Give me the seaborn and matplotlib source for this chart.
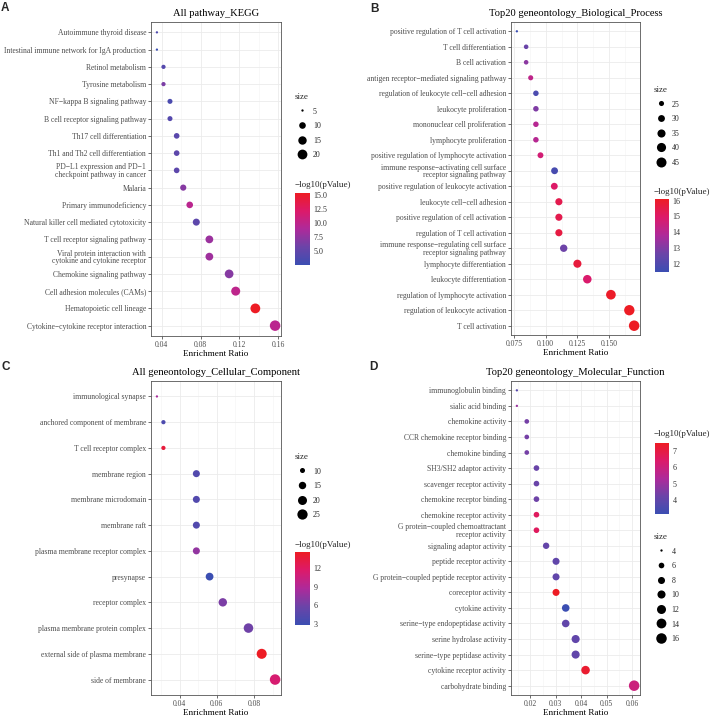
import numpy as np
import pandas as pd
import matplotlib
matplotlib.use("Agg")
import matplotlib.pyplot as plt
import seaborn as sns
from matplotlib.colors import LinearSegmentedColormap, Normalize
from matplotlib.cm import ScalarMappable
from matplotlib.lines import Line2D
from matplotlib.ticker import FixedLocator, AutoMinorLocator, FixedFormatter

sns.set_theme(style="white")
plt.rcParams['font.family'] = ['Liberation Serif', 'DejaVu Serif']

# ---------------- data ----------------
kegg_terms = [
    "Autoimmune thyroid disease",
    "Intestinal immune network for IgA production",
    "Retinol metabolism",
    "Tyrosine metabolism",
    "NF\u2212kappa B signaling pathway",
    "B cell receptor signaling pathway",
    "Th17 cell differentiation",
    "Th1 and Th2 cell differentiation",
    "PD\u2212L1 expression and PD\u22121\ncheckpoint pathway in cancer",
    "Malaria",
    "Primary immunodeficiency",
    "Natural killer cell mediated cytotoxicity",
    "T cell receptor signaling pathway",
    "Viral protein interaction with\ncytokine and cytokine receptor",
    "Chemokine signaling pathway",
    "Cell adhesion molecules (CAMs)",
    "Hematopoietic cell lineage",
    "Cytokine\u2212cytokine receptor interaction",
]
kegg_ratio = [0.0349, 0.0349, 0.0417, 0.0417, 0.0484, 0.0484, 0.0553, 0.0553, 0.0553,
              0.0621, 0.0688, 0.0756, 0.0891, 0.0891, 0.1095, 0.1163, 0.1366, 0.1570]
kegg_count = [5, 5, 6, 6, 7, 7, 8, 8, 8, 9, 10, 11, 13, 13, 16, 17, 20, 23]
kegg_logp = [3.8, 2.5, 4.3, 6.5, 3.6, 4.3, 4.6, 4.8, 4.8, 7.0, 9.8, 4.8, 8.0, 8.2, 7.0, 10.0, 15.4, 9.8]
kegg_xticks = [0.04, 0.08, 0.12, 0.16]
kegg_xticklabels = ["0.04", "0.08", "0.12", "0.16"]
kegg_size_breaks = [5, 10, 15, 20]
kegg_cbar_ticks = [5.0, 7.5, 10.0, 12.5, 15.0]
kegg_cbar_labels = ["5.0", "7.5", "10.0", "12.5", "15.0"]

bp_terms = [
    "positive regulation of T cell activation",
    "T cell differentiation",
    "B cell activation",
    "antigen receptor\u2212mediated signaling pathway",
    "regulation of leukocyte cell\u2212cell adhesion",
    "leukocyte proliferation",
    "mononuclear cell proliferation",
    "lymphocyte proliferation",
    "positive regulation of lymphocyte activation",
    "immune response\u2212activating cell surface\nreceptor signaling pathway",
    "positive regulation of leukocyte activation",
    "leukocyte cell\u2212cell adhesion",
    "positive regulation of cell activation",
    "regulation of T cell activation",
    "immune response\u2212regulating cell surface\nreceptor signaling pathway",
    "lymphocyte differentiation",
    "leukocyte differentiation",
    "regulation of lymphocyte activation",
    "regulation of leukocyte activation",
    "T cell activation",
]
bp_ratio = [0.0773, 0.0846, 0.0846, 0.0882, 0.0923, 0.0923, 0.0923, 0.0923, 0.0959, 0.1070,
            0.1068, 0.1104, 0.1104, 0.1104, 0.1142, 0.1250, 0.1328, 0.1514, 0.1659, 0.1697]
bp_count = [22, 24, 24, 25, 26, 26, 26, 26, 27, 30, 30, 31, 31, 31, 32, 35, 37, 43, 47, 48]
bp_logp = [11.5, 12.6, 13.2, 14.2, 11.9, 13.0, 14.0, 14.0, 14.7, 11.8,
           15.0, 15.4, 15.4, 15.6, 12.7, 15.7, 14.9, 16.0, 16.1, 16.1]
bp_xticks = [0.075, 0.100, 0.125, 0.150]
bp_xticklabels = ["0.075", "0.100", "0.125", "0.150"]
bp_size_breaks = [25, 30, 35, 40, 45]
bp_cbar_ticks = [12, 13, 14, 15, 16]
bp_cbar_labels = ["12", "13", "14", "15", "16"]

cc_terms = [
    "immunological synapse",
    "anchored component of membrane",
    "T cell receptor complex",
    "membrane region",
    "membrane microdomain",
    "membrane raft",
    "plasma membrane receptor complex",
    "presynapse",
    "receptor complex",
    "plasma membrane protein complex",
    "external side of plasma membrane",
    "side of membrane",
]
cc_ratio = [0.0278, 0.0313, 0.0313, 0.0490, 0.0490, 0.0490, 0.0490, 0.0561, 0.0632, 0.0770, 0.0841, 0.0913]
cc_count = [8, 9, 9, 14, 14, 14, 14, 16, 18, 22, 24, 26]
cc_logp = [8.5, 4.0, 13.5, 4.3, 4.3, 4.3, 7.5, 2.9, 6.5, 6.0, 14.5, 11.2]
cc_xticks = [0.04, 0.06, 0.08]
cc_xticklabels = ["0.04", "0.06", "0.08"]
cc_size_breaks = [10, 15, 20, 25]
cc_cbar_ticks = [3, 6, 9, 12]
cc_cbar_labels = ["3", "6", "9", "12"]

mf_terms = [
    "immunoglobulin binding",
    "sialic acid binding",
    "chemokine activity",
    "CCR chemokine receptor binding",
    "chemokine binding",
    "SH3/SH2 adaptor activity",
    "scavenger receptor activity",
    "chemokine receptor binding",
    "chemokine receptor activity",
    "G protein\u2212coupled chemoattractant\nreceptor activity",
    "signaling adaptor activity",
    "peptide receptor activity",
    "G protein\u2212coupled peptide receptor activity",
    "coreceptor activity",
    "cytokine activity",
    "serine\u2212type endopeptidase activity",
    "serine hydrolase activity",
    "serine\u2212type peptidase activity",
    "cytokine receptor activity",
    "carbohydrate binding",
]
mf_ratio = [0.0147, 0.0147, 0.0186, 0.0186, 0.0186, 0.0224, 0.0224, 0.0224, 0.0224, 0.0224,
            0.0262, 0.0301, 0.0301, 0.0301, 0.0339, 0.0339, 0.0378, 0.0378, 0.0417, 0.0608]
mf_count = [4, 4, 5, 5, 5, 6, 6, 6, 6, 6, 7, 8, 8, 8, 9, 9, 10, 10, 11, 16]
mf_logp = [3.8, 5.0, 4.4, 4.4, 4.4, 4.2, 4.2, 4.3, 6.6, 6.6,
           4.1, 4.0, 4.0, 7.5, 3.15, 4.0, 4.0, 4.0, 7.3, 6.0]
mf_xticks = [0.02, 0.03, 0.04, 0.05, 0.06]
mf_xticklabels = ["0.02", "0.03", "0.04", "0.05", "0.06"]
mf_size_breaks = [4, 6, 8, 10, 12, 14, 16]
mf_cbar_ticks = [4, 5, 6, 7]
mf_cbar_labels = ["4", "5", "6", "7"]

# ---------------- styling ----------------
W, H = 714, 718
fig = plt.figure(figsize=(W / 100, H / 100), dpi=100)
fig.patch.set_facecolor("white")

cmap = LinearSegmentedColormap.from_list(
    "bluered",
    [(0.0, "#3B4EB2"), (0.25, "#6B44A8"), (0.5, "#AE2A9A"), (0.75, "#DC1A6A"), (1.0, "#ED1C24")],
)

DMIN, DMAX = 2.3, 10.5  # dot diameter range in pixels
PX2PT = 0.72


def box(l, t, r, b):
    return [l / W, 1 - b / H, (r - l) / W, (b - t) / H]


def diam(v, lo, hi):
    return DMIN + (DMAX - DMIN) * np.sqrt((float(v) - lo) / (hi - lo))


def panel(terms, ratio, count, logp, title, xticks, xticklabels, size_breaks,
          cbar_ticks, cbar_labels, letter, letter_xy, ax_px, leg_xy, cb_title_xy, cb_px):
    ax = fig.add_axes(box(*ax_px))
    df = pd.DataFrame({"term": terms, "ratio": ratio, "count": count, "logp": logp})
    lo, hi = min(count), max(count)
    sizes = {c: (diam(c, lo, hi) * PX2PT) ** 2 for c in sorted(set(count))}
    pmin, pmax = min(logp), max(logp)
    sns.scatterplot(data=df, x="ratio", y="term", size="count", sizes=sizes,
                    hue="logp", palette=cmap, hue_norm=(pmin, pmax),
                    linewidth=0, legend=False, ax=ax, zorder=3)
    n = len(terms)
    ax.set_ylim(n - 1 + 0.6, -0.6)
    rng = max(ratio) - min(ratio)
    ax.set_xlim(min(ratio) - 0.05 * rng, max(ratio) + 0.05 * rng)
    ax.xaxis.set_major_locator(FixedLocator(xticks))
    ax.xaxis.set_major_formatter(FixedFormatter(xticklabels))
    ax.xaxis.set_minor_locator(AutoMinorLocator(2))
    ax.set_axisbelow(True)
    ax.grid(True, which="major", color="#EBEBEB", lw=0.6)
    ax.grid(True, which="minor", axis="x", color="#F3F3F3", lw=0.4)
    ax.tick_params(axis="both", which="major", length=2.0, width=0.5, color="#333333",
                   labelsize=5.5, labelcolor="#4D4D4D", pad=1.5, left=True, bottom=True)
    ax.tick_params(which="minor", length=0)
    for lab in ax.get_yticklabels():
        lab.set_linespacing(0.95)
    for s in ax.spines.values():
        s.set_color("#555555")
        s.set_linewidth(0.6)
    ax.set_title(title, fontsize=7.6, pad=4.5, color="black")
    ax.set_xlabel("Enrichment Ratio", fontsize=6.6, labelpad=1.0, color="black")
    ax.set_ylabel("")

    # colour bar
    cax = fig.add_axes(box(*cb_px))
    cb = fig.colorbar(ScalarMappable(norm=Normalize(pmin, pmax), cmap=cmap), cax=cax)
    cb.outline.set_visible(False)
    cb.set_ticks(cbar_ticks)
    cb.set_ticklabels(cbar_labels)
    cax.minorticks_off()
    cax.tick_params(axis="y", which="major", direction="in", left=True, right=True,
                    length=3, width=0.6, color="white", labelsize=5.8,
                    labelcolor="#333333", pad=2.5)
    fig.text(cb_title_xy[0] / W, 1 - cb_title_xy[1] / H, "\u2212log10(pValue)",
             fontsize=6.5, ha="left", va="center")

    # size legend
    handles = [Line2D([], [], marker="o", ls="", color="black", markeredgewidth=0,
                      markersize=diam(b, lo, hi) * PX2PT) for b in size_breaks]
    fig.legend(handles, [str(b) for b in size_breaks], title="size",
               loc="upper left", bbox_to_anchor=(leg_xy[0] / W, 1 - leg_xy[1] / H),
               frameon=False, fontsize=5.7, title_fontsize=6.5, labelspacing=0.8,
               handleheight=1.0, handlelength=1.75, handletextpad=0.5,
               borderpad=0, borderaxespad=0, alignment="left")

    fig.text(letter_xy[0] / W, 1 - letter_xy[1] / H, letter, ha="left", va="top",
             fontsize=8.5, fontweight="bold", family=["Liberation Sans", "DejaVu Sans"])


panel(kegg_terms, kegg_ratio, kegg_count, kegg_logp, "All pathway_KEGG",
      kegg_xticks, kegg_xticklabels, kegg_size_breaks, kegg_cbar_ticks, kegg_cbar_labels,
      "A", (1, 2), (151, 22, 281, 336), (295, 93), (295, 185), (295, 193, 310, 265))

panel(bp_terms, bp_ratio, bp_count, bp_logp, "Top20 geneontology_Biological_Process",
      bp_xticks, bp_xticklabels, bp_size_breaks, bp_cbar_ticks, bp_cbar_labels,
      "B", (370, 3), (511, 22, 640, 335), (654, 86), (654, 192), (655, 199, 669, 272))

panel(cc_terms, cc_ratio, cc_count, cc_logp, "All geneontology_Cellular_Component",
      cc_xticks, cc_xticklabels, cc_size_breaks, cc_cbar_ticks, cc_cbar_labels,
      "C", (1, 361), (151, 381, 281, 695), (295, 453), (295, 545), (295, 552, 310, 625))

panel(mf_terms, mf_ratio, mf_count, mf_logp, "Top20 geneontology_Molecular_Function",
      mf_xticks, mf_xticklabels, mf_size_breaks, mf_cbar_ticks, mf_cbar_labels,
      "D", (369, 361), (511, 381, 640, 695), (654, 533), (654, 434), (655, 443, 669, 514))

fig.savefig("out.png", dpi=100, facecolor="white")
